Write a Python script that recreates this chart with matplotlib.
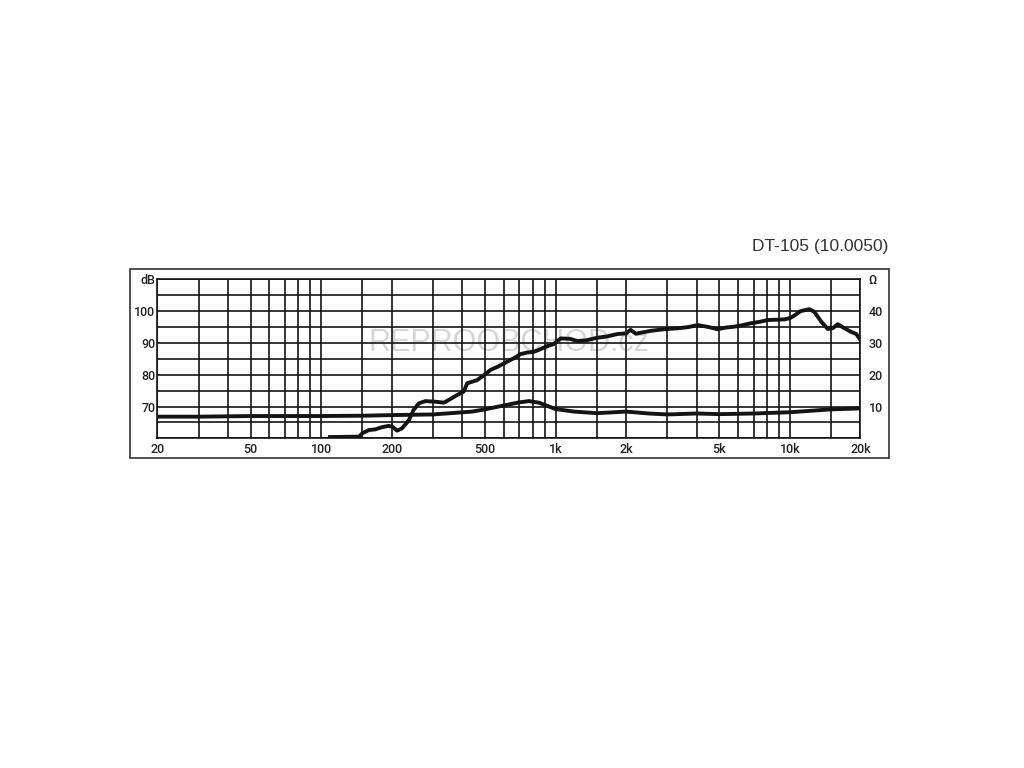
"""
DT-105 frequency response + impedance chart
"""

import matplotlib.pyplot as plt
from matplotlib.patches import Rectangle

plt.rcParams['font.family'] = 'Roboto'
plt.rcParams['font.size'] = 9
plt.rcParams['font.weight'] = 'medium'

# grid frequencies (vertical lines) and the labelled ones
grid_freqs = [20, 30, 40, 50, 60, 70, 80, 90, 100, 150, 200, 300, 400, 500,
              600, 700, 800, 900, 1000, 1500, 2000, 3000, 4000, 5000, 6000,
              7000, 8000, 9000, 10000, 15000, 20000]
label_freqs = {20: '20', 50: '50', 100: '100', 200: '200', 500: '500',
               1000: '1k', 2000: '2k', 5000: '5k', 10000: '10k', 20000: '20k'}

db_ticks = [60, 65, 70, 75, 80, 85, 90, 95, 100, 105, 110]
db_labels = {70: '70', 80: '80', 90: '90', 100: '100', 110: 'dB'}
ohm_ticks = [10, 20, 30, 40, 50]
ohm_labels = ['10', '20', '30', '40', 'Ω']

# frequency response (dB)
spl_freq = [109, 140, 145, 150, 160, 170, 182, 194, 201, 211, 221, 236, 248,
            261, 279, 308, 334, 355, 380, 406, 420, 441, 463, 490, 528, 570,
            622, 665, 710, 760, 809, 860, 923, 980, 1052, 1150, 1240, 1350,
            1500, 1650, 1840, 2000, 2090, 2200, 2550, 2900, 3320, 3700, 4040,
            4500, 4910, 5300, 5790, 6300, 6820, 7400, 8040, 8800, 9470, 10000,
            10400, 11100, 12100, 12700, 13600, 14500, 15200, 16000, 17100,
            18200, 19200, 20000]
spl_db = [60.4, 60.5, 60.5, 61.6, 62.6, 62.8, 63.5, 63.9, 63.7, 62.4, 63.1,
          65.5, 68.9, 71.0, 71.7, 71.5, 71.2, 72.3, 73.6, 74.7, 77.3, 77.8,
          78.3, 79.6, 81.5, 82.6, 84.1, 85.2, 86.5, 87.0, 87.2, 88.0, 89.0,
          89.6, 91.4, 91.3, 90.6, 90.8, 91.6, 92.0, 92.8, 93.0, 94.1, 92.9,
          93.8, 94.3, 94.6, 95.0, 95.6, 95.0, 94.3, 94.8, 95.1, 95.6, 96.2,
          96.6, 97.2, 97.3, 97.4, 97.8, 98.5, 100.0, 100.6, 99.8, 96.7, 94.4,
          94.6, 95.9, 94.6, 93.5, 92.8, 90.9]

# impedance (ohm)
imp_freq = [20, 30, 50, 100, 150, 200, 300, 441, 500, 600, 700, 770, 850,
            900, 1000, 1200, 1500, 2000, 2500, 3000, 4000, 5000, 7000, 10000,
            15000, 20000]
imp_ohm = [6.8, 6.8, 7.0, 7.0, 7.1, 7.3, 7.5, 8.4, 9.1, 10.3, 11.3, 11.7,
           11.2, 10.5, 9.2, 8.4, 7.9, 8.4, 7.8, 7.5, 7.8, 7.6, 7.8, 8.2,
           9.1, 9.4]

INK = '#141414'


def main():
    fig = plt.figure(figsize=(10.24, 7.68), dpi=100)

    # outer frame
    fig.add_artist(Rectangle((0.1274, 0.4036), 0.7407, 0.2467,
                             transform=fig.transFigure, fill=False,
                             lw=1.2, ec='#333333'))

    ax = fig.add_axes([0.1536, 0.4293, 0.6867, 0.2070])
    ax.set_xscale('log')
    ax.set_xlim(20, 20000)
    ax.set_ylim(60, 110)

    ax.set_xticks(grid_freqs)
    ax.set_xticklabels([label_freqs.get(f, '') for f in grid_freqs])
    ax.minorticks_off()
    ax.set_yticks(db_ticks)
    ax.set_yticklabels([db_labels.get(t, '') for t in db_ticks])
    ax.tick_params(axis='x', length=0, pad=3.5, colors='#222222')
    ax.tick_params(axis='y', length=0, pad=1.5, colors='#222222')
    ax.grid(True, color=INK, lw=1.2)
    ax.set_axisbelow(True)
    for s in ax.spines.values():
        s.set_color(INK)
        s.set_linewidth(1.2)

    # watermark
    ax.text(0.5, 0.6, 'REPROOBCHOD.cz', transform=ax.transAxes,
            ha='center', va='center', fontsize=22, color='#d6d6d6',
            family='Liberation Sans', fontweight='normal', zorder=0)

    ax.plot(spl_freq, spl_db, color=INK, lw=2.8, solid_joinstyle='round',
            zorder=3)

    ax2 = ax.twinx()
    ax2.set_ylim(0, 50)
    ax2.set_yticks(ohm_ticks)
    ax2.set_yticklabels(ohm_labels)
    ax2.tick_params(axis='y', length=0, pad=6, colors='#222222')
    for s in ax2.spines.values():
        s.set_visible(False)
    ax2.plot(imp_freq, imp_ohm, color=INK, lw=2.8, solid_joinstyle='round')

    fig.text(888 / 1024, 1 - 246 / 768, 'DT-105 (10.0050)', ha='right',
             va='center', fontsize=12.5, family='Liberation Sans',
             fontweight='normal', color='#333333')

    fig.savefig('out.png', dpi=100)
    plt.close()


if __name__ == "__main__":
    main()
